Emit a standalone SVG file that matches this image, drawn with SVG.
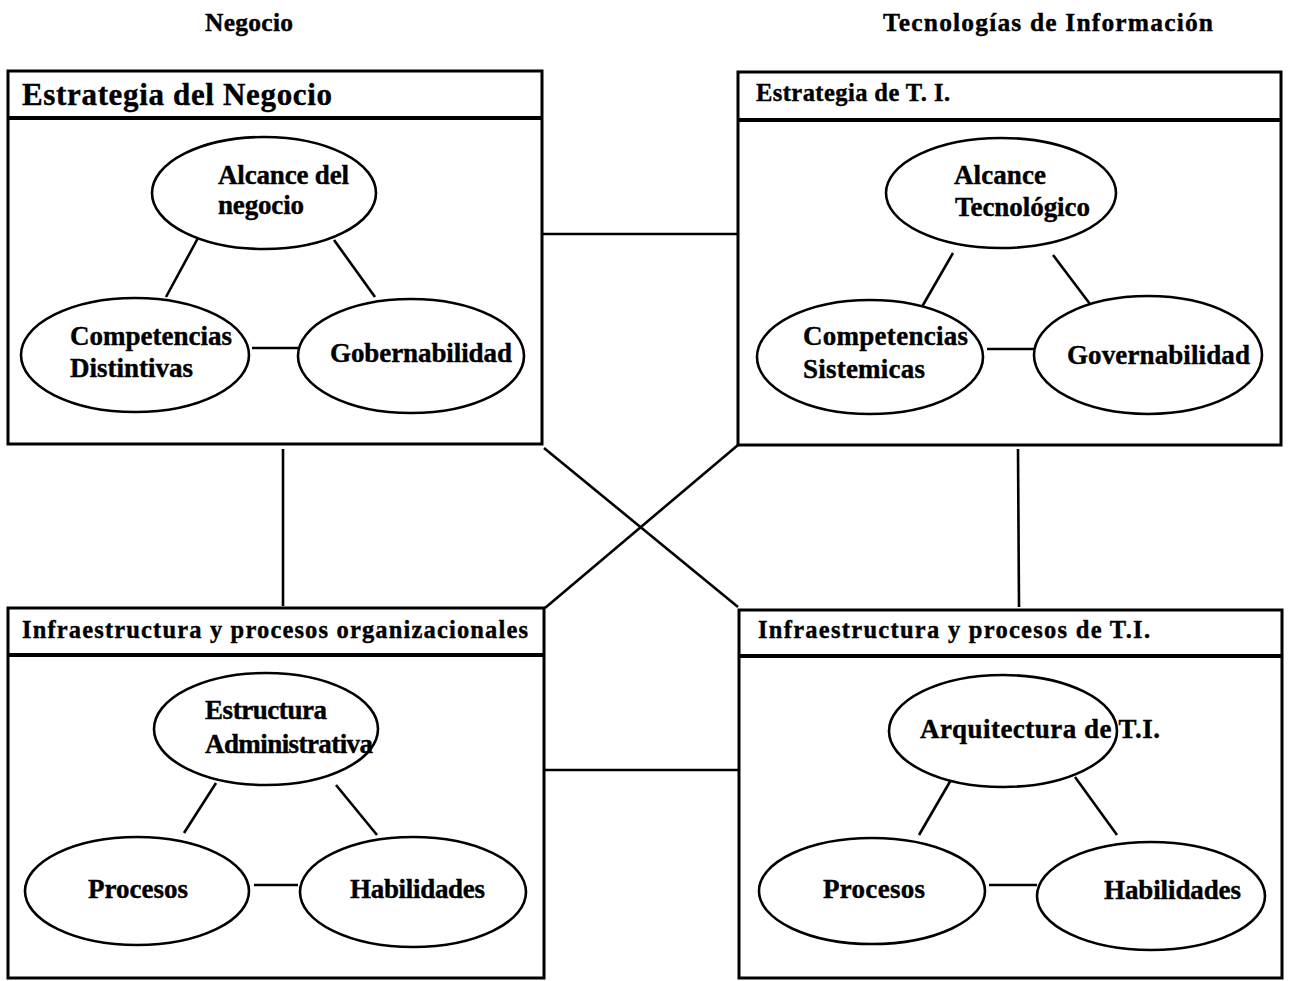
<svg xmlns="http://www.w3.org/2000/svg" width="1290" height="981" viewBox="0 0 1290 981">
  <style>
    text { font-family: "Liberation Serif", "Times New Roman", serif; font-weight: bold; fill: #000; stroke: #000; stroke-width: 0.4; }
    .col { font-size: 25.5px; }
    .big { font-size: 31px; }
    .hdr { font-size: 24.5px; }
    .lbl { font-size: 27px; }
    .frame { fill: #fff; stroke: #000; stroke-width: 3; }
    .bar { stroke: #000; stroke-width: 4; fill: none; }
    .oval { fill: #fff; stroke: #000; stroke-width: 2.6; }
    .link { stroke: #000; stroke-width: 2.6; fill: none; }
  </style>
  <rect width="1290" height="981" fill="#fff"/>

  <!-- column headings -->
  <text class="col" x="205" y="31" textLength="88" lengthAdjust="spacing">Negocio</text>
  <text class="col" x="883" y="31" textLength="330" lengthAdjust="spacing">Tecnologías de Información</text>

  <!-- links between the four quadrants -->
  <g id="connectors">
    <line class="link" x1="542" y1="234" x2="738" y2="234"/>
    <line class="link" x1="544" y1="770" x2="738" y2="770"/>
    <line class="link" x1="283" y1="449" x2="283" y2="606"/>
    <line class="link" x1="1018" y1="449" x2="1019" y2="607"/>
    <line class="link" x1="544" y1="448" x2="738" y2="607"/>
    <line class="link" x1="545" y1="608" x2="738" y2="445"/>
  </g>

  <!-- business strategy -->
  <g id="estrategia-negocio">
    <rect class="frame" x="8" y="71" width="534" height="373"/>
    <line class="bar" x1="8" y1="118" x2="542" y2="118"/>
    <text class="big" x="22" y="105" textLength="310" lengthAdjust="spacing">Estrategia del Negocio</text>
    <line class="link" x1="198" y1="238" x2="166" y2="297"/>
    <line class="link" x1="334" y1="240" x2="375" y2="297"/>
    <line class="link" x1="252" y1="348" x2="298" y2="348"/>
    <ellipse class="oval" cx="264" cy="193" rx="112" ry="56"/>
    <ellipse class="oval" cx="135" cy="355" rx="114" ry="57"/>
    <ellipse class="oval" cx="411" cy="356" rx="113" ry="57"/>
    <text class="lbl" x="218" y="184" textLength="131" lengthAdjust="spacing">Alcance del</text>
    <text class="lbl" x="218" y="214" textLength="86" lengthAdjust="spacing">negocio</text>
    <text class="lbl" x="70" y="345" textLength="162" lengthAdjust="spacing">Competencias</text>
    <text class="lbl" x="70" y="377" textLength="123" lengthAdjust="spacing">Distintivas</text>
    <text class="lbl" x="330" y="362" textLength="182" lengthAdjust="spacing">Gobernabilidad</text>
  </g>

  <!-- IT strategy -->
  <g id="estrategia-ti">
    <rect class="frame" x="738" y="72" width="543" height="373"/>
    <line class="bar" x1="738" y1="120" x2="1281" y2="120"/>
    <text class="hdr" x="756" y="101" textLength="194" lengthAdjust="spacing">Estrategia de T. I.</text>
    <line class="link" x1="953" y1="253" x2="919" y2="312"/>
    <line class="link" x1="1053" y1="255" x2="1096" y2="312"/>
    <line class="link" x1="987" y1="349" x2="1034" y2="349"/>
    <ellipse class="oval" cx="1001" cy="193" rx="115" ry="55"/>
    <ellipse class="oval" cx="870" cy="357" rx="113" ry="57"/>
    <ellipse class="oval" cx="1148" cy="355" rx="114" ry="59"/>
    <text class="lbl" x="954" y="184" textLength="92" lengthAdjust="spacing">Alcance</text>
    <text class="lbl" x="955" y="216" textLength="135" lengthAdjust="spacing">Tecnológico</text>
    <text class="lbl" x="803" y="345" textLength="165" lengthAdjust="spacing">Competencias</text>
    <text class="lbl" x="803" y="378" textLength="122" lengthAdjust="spacing">Sistemicas</text>
    <text class="lbl" x="1067" y="364" textLength="183" lengthAdjust="spacing">Governabilidad</text>
  </g>

  <!-- organisational infrastructure and processes -->
  <g id="infraestructura-org">
    <rect class="frame" x="8" y="608" width="536" height="370"/>
    <line class="bar" x1="8" y1="655" x2="544" y2="655"/>
    <text class="hdr" x="22" y="638" textLength="506" lengthAdjust="spacing">Infraestructura y procesos organizacionales</text>
    <line class="link" x1="216" y1="783" x2="184" y2="833"/>
    <line class="link" x1="336" y1="785" x2="377" y2="835"/>
    <line class="link" x1="254" y1="885" x2="298" y2="885"/>
    <ellipse class="oval" cx="266" cy="729" rx="112" ry="56"/>
    <ellipse class="oval" cx="137" cy="891" rx="112" ry="54"/>
    <ellipse class="oval" cx="413" cy="892" rx="113" ry="55"/>
    <text class="lbl" x="205" y="719" textLength="122" lengthAdjust="spacing">Estructura</text>
    <text class="lbl" x="205" y="753" textLength="168" lengthAdjust="spacing">Administrativa</text>
    <text class="lbl" x="88" y="898" textLength="100" lengthAdjust="spacing">Procesos</text>
    <text class="lbl" x="350" y="898" textLength="135" lengthAdjust="spacing">Habilidades</text>
  </g>

  <!-- IT infrastructure and processes -->
  <g id="infraestructura-ti">
    <rect class="frame" x="739" y="610" width="543" height="368"/>
    <line class="bar" x1="739" y1="656" x2="1282" y2="656"/>
    <text class="hdr" x="758" y="638" textLength="392" lengthAdjust="spacing">Infraestructura y procesos de T.I.</text>
    <line class="link" x1="955" y1="773" x2="919" y2="835"/>
    <line class="link" x1="1075" y1="777" x2="1117" y2="835"/>
    <line class="link" x1="989" y1="885" x2="1037" y2="885"/>
    <ellipse class="oval" cx="1003" cy="731" rx="114" ry="56"/>
    <ellipse class="oval" cx="872" cy="891" rx="113" ry="53"/>
    <ellipse class="oval" cx="1151" cy="896" rx="114" ry="54"/>
    <text class="lbl" x="920" y="738" textLength="240" lengthAdjust="spacing">Arquitectura de T.I.</text>
    <text class="lbl" x="823" y="898" textLength="102" lengthAdjust="spacing">Procesos</text>
    <text class="lbl" x="1104" y="899" textLength="137" lengthAdjust="spacing">Habilidades</text>
  </g>
</svg>
